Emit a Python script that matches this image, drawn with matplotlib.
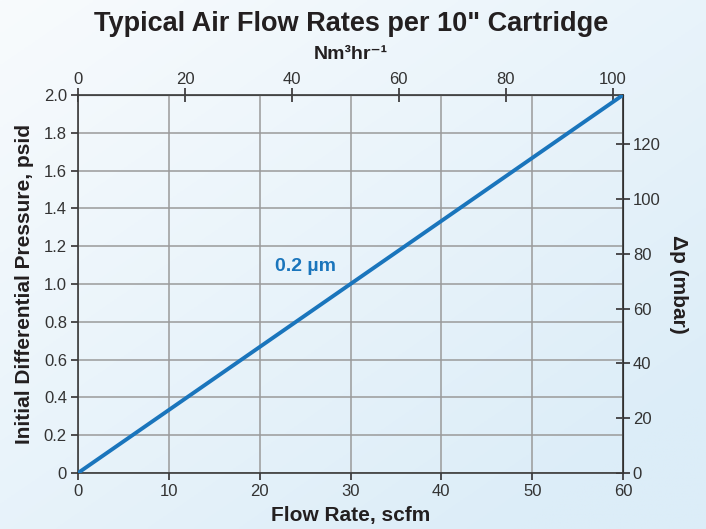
import matplotlib
matplotlib.use("Agg")
import matplotlib.pyplot as plt
import numpy as np

plt.rcParams['font.family'] = ['Liberation Sans', 'DejaVu Sans']

# data
flow_scfm = [0, 60]
dp_psid = [0, 2.0]
x_ticks = [0, 10, 20, 30, 40, 50, 60]
y_ticks = [0, 0.2, 0.4, 0.6, 0.8, 1.0, 1.2, 1.4, 1.6, 1.8, 2.0]
y_labels = ['0', '0.2', '0.4', '0.6', '0.8', '1.0', '1.2', '1.4', '1.6', '1.8', '2.0']
top_ticks = [0, 20, 40, 60, 80, 100]
right_ticks = [0, 20, 40, 60, 80, 100, 120]
scfm_to_nm3hr = 1.699
psi_to_mbar = 68.95

blue = '#1a75bc'
dark = '#231f20'
tickc = '#333333'

fig = plt.figure(figsize=(7.06, 5.29), dpi=100)

# background gradient
bg = fig.add_axes([0, 0, 1, 1], zorder=-10)
gx, gy = np.meshgrid(np.linspace(0, 1, 200), np.linspace(0, 1, 200))
t = np.clip(0.55 * gx + 0.6 * gy, 0, 1)
c0 = np.array([248, 251, 253]) / 255
c1 = np.array([220, 237, 248]) / 255
img = c0[None, None, :] * (1 - t[..., None]) + c1[None, None, :] * t[..., None]
bg.imshow(img, aspect='auto', extent=[0, 1, 0, 1], origin='upper')
bg.axis('off')

ax = fig.add_axes([0.1105, 0.1059, 0.772, 0.7146])
ax.set_facecolor('none')
ax.plot(flow_scfm, dp_psid, color=blue, lw=2.8, solid_capstyle='butt', zorder=5)
ax.set_xlim(0, 60)
ax.set_ylim(0, 2.0)
ax.set_xticks(x_ticks)
ax.set_yticks(y_ticks)
ax.set_yticklabels(y_labels)
ax.grid(True, color='#9a9a9a', lw=1.1)
ax.tick_params(colors=dark, labelcolor=tickc, labelsize=12, length=5, width=1.1)
ax.tick_params(axis='x', direction='out', pad=3)
ax.tick_params(axis='y', direction='out', pad=3)
for s in ax.spines.values():
    s.set_color('#3a3a3a')
    s.set_linewidth(1.2)
ax.set_xlabel('Flow Rate, scfm', fontsize=15, fontweight='bold', color=dark, labelpad=5)
ax.set_ylabel('Initial Differential Pressure, psid', fontsize=15, fontweight='bold', color=dark, labelpad=7)
ax.text(25, 1.09, '0.2 µm', color=blue, fontsize=14, fontweight='bold', ha='center', va='center')

top = ax.secondary_xaxis('top', functions=(lambda v: v * scfm_to_nm3hr, lambda v: v / scfm_to_nm3hr))
top.set_xticks(top_ticks)
top.tick_params(colors=dark, labelcolor=tickc, labelsize=12, direction='inout', length=10, width=1.1, pad=1)
top.set_xlabel('Nm³hr⁻¹', fontsize=14, fontweight='bold', color=dark, labelpad=9)

right = ax.secondary_yaxis('right', functions=(lambda v: v * psi_to_mbar, lambda v: v / psi_to_mbar))
right.set_yticks(right_ticks)
right.tick_params(colors=dark, labelcolor=tickc, labelsize=12, direction='inout', length=10, width=1.1, pad=2)
right.set_ylabel('Δp (mbar)', fontsize=15, fontweight='bold', color=dark, rotation=270, labelpad=20)

fig.text(0.497, 0.955, 'Typical Air Flow Rates per 10" Cartridge', fontsize=19.5,
         fontweight='bold', color=dark, ha='center', va='center')

fig.savefig('out.png', dpi=100)
